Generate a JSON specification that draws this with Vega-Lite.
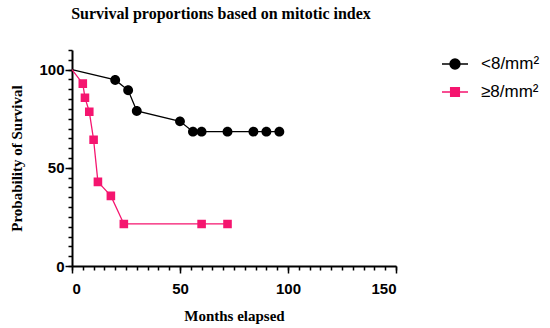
{
  "$schema": "https://vega.github.io/schema/vega-lite/v6.json",
  "width": 324,
  "height": 216,
  "autosize": {"type": "none"},
  "padding": {"left": 72, "top": 50, "right": 154, "bottom": 62},
  "background": "white",
  "title": {"text": "Survival proportions based on mitotic index", "font": "Liberation Serif", "fontSize": 16, "fontWeight": "bold", "color": "black", "anchor": "middle", "dx": -13, "offset": 27},
  "data": {"values": [
    {"month": 0, "surv": 100, "group": "<8/mm²"},
    {"month": 20, "surv": 94.74, "group": "<8/mm²"},
    {"month": 26, "surv": 89.47, "group": "<8/mm²"},
    {"month": 30, "surv": 78.95, "group": "<8/mm²"},
    {"month": 50, "surv": 73.68, "group": "<8/mm²"},
    {"month": 56, "surv": 68.42, "group": "<8/mm²"},
    {"month": 60, "surv": 68.42, "group": "<8/mm²"},
    {"month": 72, "surv": 68.42, "group": "<8/mm²"},
    {"month": 84, "surv": 68.42, "group": "<8/mm²"},
    {"month": 90, "surv": 68.42, "group": "<8/mm²"},
    {"month": 96, "surv": 68.42, "group": "<8/mm²"},
    {"month": 0, "surv": 100, "group": "≥8/mm²"},
    {"month": 5, "surv": 92.86, "group": "≥8/mm²"},
    {"month": 6, "surv": 85.71, "group": "≥8/mm²"},
    {"month": 8, "surv": 78.57, "group": "≥8/mm²"},
    {"month": 10, "surv": 64.29, "group": "≥8/mm²"},
    {"month": 12, "surv": 42.86, "group": "≥8/mm²"},
    {"month": 18, "surv": 35.71, "group": "≥8/mm²"},
    {"month": 24, "surv": 21.43, "group": "≥8/mm²"},
    {"month": 60, "surv": 21.43, "group": "≥8/mm²"},
    {"month": 72, "surv": 21.43, "group": "≥8/mm²"}
  ]},
  "resolve": {"axis": {"x": "independent", "y": "independent"}},
  "config": {
    "view": {"stroke": null},
    "axis": {"domainColor": "black", "domainWidth": 2, "tickColor": "black", "tickWidth": 1.5, "grid": false, "labelFont": "Liberation Sans", "labelFontWeight": "bold", "labelFontSize": 15, "labelColor": "black", "titleFont": "Liberation Serif", "titleFontWeight": "bold", "titleFontSize": 15, "titleColor": "black"}
  },
  "layer": [
    {
      "mark": {"type": "line", "strokeWidth": 1.3},
      "encoding": {
        "x": {"field": "month", "type": "quantitative", "scale": {"domain": [0, 150], "nice": false},
              "axis": {"values": [0, 50, 100, 150], "tickSize": 7, "title": "Months elapsed", "labelPadding": 8, "titlePadding": 12}},
        "y": {"field": "surv", "type": "quantitative", "scale": {"domain": [0, 110], "nice": false},
              "axis": {"values": [0, 50, 100], "tickSize": 7, "title": "Probability of Survival", "labelPadding": 1, "titlePadding": 14}},
        "color": {"field": "group", "type": "nominal", "scale": {"domain": ["<8/mm²", "≥8/mm²"], "range": ["black", "#F5156F"]},
                  "legend": {"orient": "none", "legendX": 369, "legendY": 0, "title": null, "symbolSize": 676, "symbolStrokeWidth": 1.5, "labelFont": "Liberation Sans", "labelFontSize": 17, "labelColor": "black", "labelOffset": 12, "rowPadding": 6,
                    "encode": {"symbols": {"update": {"stroke": {"scale": "color", "field": "value"}, "fill": {"scale": "color", "field": "value"}, "strokeWidth": {"value": 1.5}, "opacity": {"value": 1}}}}}}
      }
    },
    {
      "mark": {"type": "point", "filled": true, "opacity": 1, "size": 676},
      "transform": [{"filter": "datum.month > 0"}],
      "encoding": {
        "x": {"field": "month", "type": "quantitative",
              "axis": {"orient": "bottom", "values": [0,5,10,15,20,25,30,35,40,45,50,55,60,65,70,75,80,85,90,95,100,105,110,115,120,125,130,135,140,145,150], "tickSize": 4, "labels": false, "domain": false, "title": null}},
        "y": {"field": "surv", "type": "quantitative",
              "axis": {"orient": "left", "values": [0,5,10,15,20,25,30,35,40,45,50,55,60,65,70,75,80,85,90,95,100,105,110], "tickSize": 4, "labels": false, "domain": false, "title": null}},
        "color": {"field": "group", "type": "nominal"},
        "shape": {"field": "group", "type": "nominal", "scale": {"domain": ["<8/mm²", "≥8/mm²"], "range": ["M-1,0H1M0.38,0A0.38,0.38 0 1,1 -0.38,0A0.38,0.38 0 1,1 0.38,0Z", "M-1,0H1M-0.33,-0.33H0.33V0.33H-0.33Z"]}}
      }
    }
  ]
}
